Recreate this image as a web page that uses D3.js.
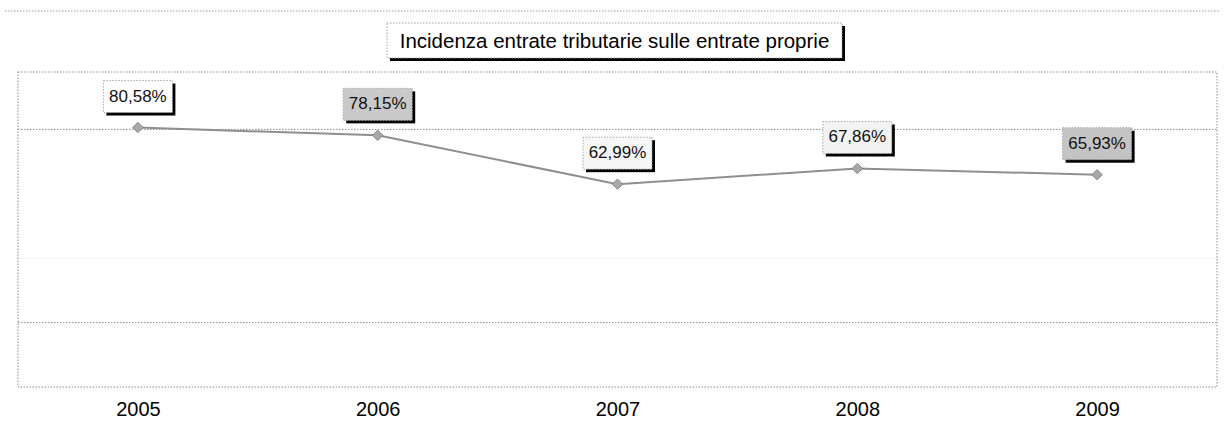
<!DOCTYPE html>
<html>
<head>
<meta charset="utf-8">
<script src="https://cdn.jsdelivr.net/npm/d3@7"></script>
<style>
  html, body { margin: 0; padding: 0; background: #fff; }
  svg { display: block; font-family: "Liberation Sans", Arial, sans-serif; }
</style>
</head>
<body>
<script>
// Chart data
const years = ["2005", "2006", "2007", "2008", "2009"];
const values = [80.58, 78.15, 62.99, 67.86, 65.93];
const gridValues = [20, 40, 60, 80];
const title = "Incidenza entrate tributarie sulle entrate proprie";

// Styling per data label / gridline
const labelFills = ["#ffffff", "#c9c9c9", "#f6f6f6", "#f3f3f3", "#c4c4c4"];
const gridOpacity = [1, 0.25, 0, 1];

const W = 1225, H = 426;
const plot = { left: 18, right: 1217, top: 72, bottom: 387 };

const svg = d3.select("body").append("svg")
  .attr("width", W).attr("height", H);

const x = d3.scalePoint().domain(years)
  .range([plot.left, plot.right]).padding(0.5);
const y = d3.scaleLinear().domain([0, 100])
  .range([plot.bottom, plot.bottom - 322]);

const fmt = v => v.toFixed(2).replace(".", ",") + "%";
const dotted = "1.5,1.5";

// Outer chart edge
svg.append("line")
  .attr("x1", 5).attr("x2", 1220).attr("y1", 11).attr("y2", 11)
  .attr("stroke", "#9a9a9a").attr("stroke-dasharray", dotted);

// Gridlines
svg.append("g").selectAll("line").data(gridValues).join("line")
  .attr("x1", plot.left).attr("x2", plot.right)
  .attr("y1", d => y(d)).attr("y2", d => y(d))
  .attr("stroke", "#8c8c8c").attr("stroke-dasharray", dotted)
  .attr("opacity", (d, i) => gridOpacity[i]);

// Plot frame
svg.append("rect")
  .attr("x", plot.left).attr("y", plot.top)
  .attr("width", plot.right - plot.left).attr("height", plot.bottom - plot.top)
  .attr("fill", "none").attr("stroke", "#8c8c8c").attr("stroke-dasharray", dotted);

// Title box with drop shadow
const tb = { x: 387, y: 23, w: 455, h: 35 };
svg.append("rect").attr("x", tb.x + 3).attr("y", tb.y + 3)
  .attr("width", tb.w).attr("height", tb.h).attr("fill", "#000");
svg.append("rect").attr("x", tb.x).attr("y", tb.y)
  .attr("width", tb.w).attr("height", tb.h)
  .attr("fill", "#fff").attr("stroke", "#a0a0a0").attr("stroke-dasharray", dotted);
svg.append("text")
  .attr("x", tb.x + tb.w / 2).attr("y", tb.y + 25)
  .attr("text-anchor", "middle").attr("font-size", 20.5).attr("fill", "#000")
  .text(title);

// Series line
svg.append("path")
  .datum(values)
  .attr("fill", "none").attr("stroke", "#8f8f8f").attr("stroke-width", 2)
  .attr("d", d3.line().x((d, i) => x(years[i])).y(d => y(d)));

// Diamond markers
svg.append("g").selectAll("path").data(values).join("path")
  .attr("transform", (d, i) => `translate(${x(years[i])},${y(d)})`)
  .attr("d", d3.symbol().type(d3.symbolDiamond2).size(70))
  .attr("fill", "#a8a8a8").attr("stroke", "#7a7a7a").attr("stroke-width", 0.8);

// Data labels
const lw = 69, lh = 32, gap = 15;
const labels = svg.append("g").selectAll("g").data(values).join("g")
  .attr("transform", (d, i) => `translate(${x(years[i]) - lw / 2},${y(d) - gap - lh})`);
labels.append("rect").attr("x", 3).attr("y", 3)
  .attr("width", lw).attr("height", lh).attr("fill", "#000");
labels.append("rect")
  .attr("width", lw).attr("height", lh)
  .attr("fill", (d, i) => labelFills[i])
  .attr("stroke", "#a8a8a8").attr("stroke-dasharray", dotted);
labels.append("text")
  .attr("x", lw / 2).attr("y", 21)
  .attr("text-anchor", "middle").attr("font-size", 17).attr("fill", "#111")
  .text(d => fmt(d));

// X axis labels
const xAxis = d3.axisBottom(x).tickSize(0).tickPadding(0);
const gx = svg.append("g").attr("transform", `translate(0,${plot.bottom})`).call(xAxis);
gx.select(".domain").remove();
gx.selectAll("text")
  .attr("font-size", 20).attr("fill", "#000")
  .attr("font-family", "Liberation Sans, Arial, sans-serif")
  .attr("dy", 0).attr("y", 29);
</script>
</body>
</html>
